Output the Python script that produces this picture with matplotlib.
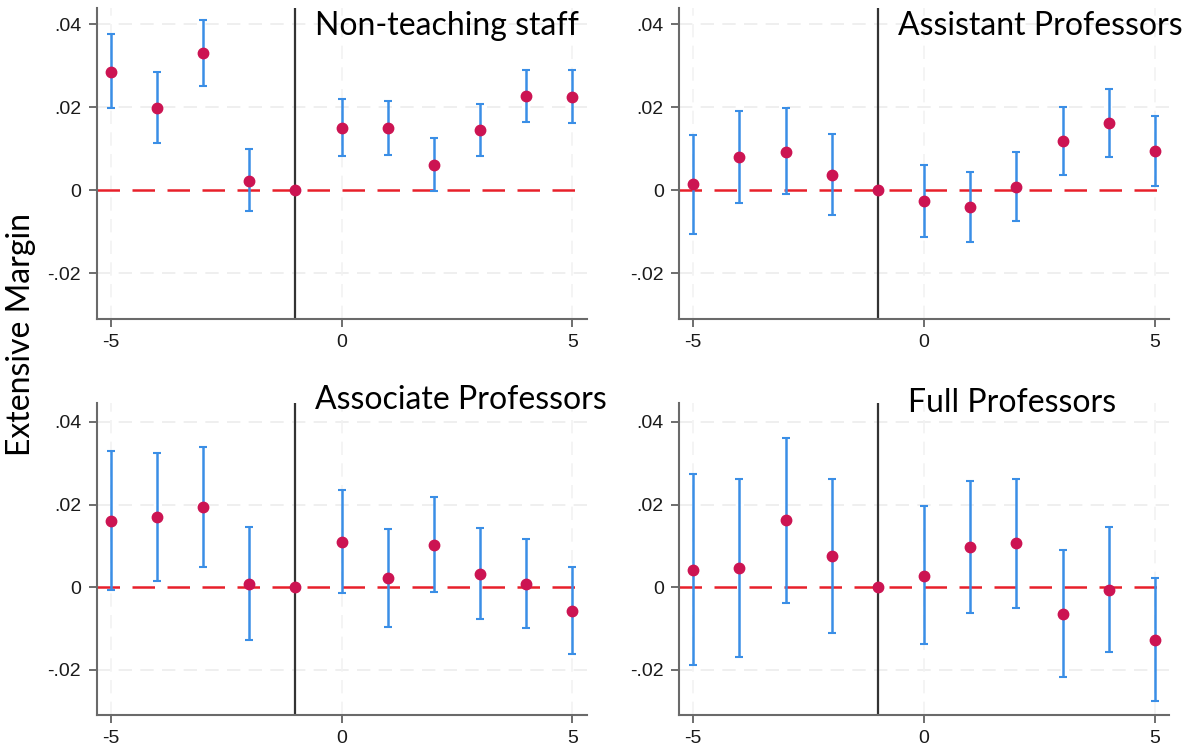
import matplotlib.pyplot as plt
import numpy as np

plt.rcParams['font.family'] = 'Liberation Sans'
plt.rcParams['axes.unicode_minus'] = False

# event time
periods = [-5, -4, -3, -2, -1, 0, 1, 2, 3, 4, 5]

# point estimates and 95% CI, one set per panel (reference period -1 = 0)
titles = ['Non-teaching staff', 'Assistant Professors', 'Associate Professors', 'Full Professors']

coef_staff = [0.0286, 0.0197, 0.0330, 0.0023, 0.0, 0.0151, 0.0149, 0.0060, 0.0145, 0.0226, 0.0225]
lo_staff   = [0.0198, 0.0113, 0.0251, -0.0051, 0.0, 0.0083, 0.0084, -0.0002, 0.0083, 0.0164, 0.0162]
hi_staff   = [0.0377, 0.0284, 0.0410, 0.0099, 0.0, 0.0220, 0.0216, 0.0126, 0.0208, 0.0289, 0.0289]

coef_asst = [0.0015, 0.0080, 0.0093, 0.0036, 0.0, -0.0026, -0.0040, 0.0008, 0.0118, 0.0161, 0.0094]
lo_asst   = [-0.0106, -0.0030, -0.0010, -0.0060, 0.0, -0.0113, -0.0124, -0.0075, 0.0036, 0.0080, 0.0011]
hi_asst   = [0.0133, 0.0192, 0.0198, 0.0135, 0.0, 0.0062, 0.0045, 0.0093, 0.0201, 0.0244, 0.0180]

coef_assoc = [0.0160, 0.0169, 0.0194, 0.0008, 0.0, 0.0110, 0.0023, 0.0103, 0.0032, 0.0008, -0.0058]
lo_assoc   = [-0.0007, 0.0015, 0.0049, -0.0128, 0.0, -0.0015, -0.0096, -0.0011, -0.0078, -0.0100, -0.0163]
hi_assoc   = [0.0330, 0.0325, 0.0340, 0.0145, 0.0, 0.0235, 0.0141, 0.0219, 0.0144, 0.0116, 0.0048]

coef_full = [0.0042, 0.0045, 0.0162, 0.0075, 0.0, 0.0028, 0.0096, 0.0106, -0.0065, -0.0006, -0.0128]
lo_full   = [-0.0188, -0.0169, -0.0038, -0.0111, 0.0, -0.0139, -0.0064, -0.0050, -0.0218, -0.0157, -0.0276]
hi_full   = [0.0274, 0.0261, 0.0362, 0.0262, 0.0, 0.0197, 0.0258, 0.0263, 0.0089, 0.0146, 0.0023]

yticks = [-0.02, 0, 0.02, 0.04]
ytick_labels = ['-.02', '0', '.02', '.04']
xticks = [-5, 0, 5]

W, H = 1192, 756
fig = plt.figure(figsize=(W/100, H/100), dpi=100)

# axes boxes in pixels: left, top, right, bottom
boxes = [(96.5, 8, 586.7, 319), (679, 8, 1169.3, 319),
         (96.5, 403, 586.7, 715), (679, 403, 1169.3, 715)]
ylims = [(-0.031, 0.0439), (-0.031, 0.0439), (-0.031, 0.0446), (-0.031, 0.0446)]
data = [(coef_staff, lo_staff, hi_staff), (coef_asst, lo_asst, hi_asst),
        (coef_assoc, lo_assoc, hi_assoc), (coef_full, lo_full, hi_full)]
# title anchor (left x, centre y) in pixels
title_pos = [(315, 26), (898, 26), (315, 400), (908, 403)]

for box, yl, (c, lo, hi), title, tp in zip(boxes, ylims, data, titles, title_pos):
    l, t, r, b = box
    ax = fig.add_axes([l/W, 1-b/H, (r-l)/W, (b-t)/H])
    c = np.array(c); lo = np.array(lo); hi = np.array(hi)
    x = np.array(periods)

    ax.set_xlim(-5.31, 5.31)
    ax.set_ylim(*yl)
    for yv in [-0.02, 0.02, 0.04]:
        ax.axhline(yv, color='#ececec', lw=1.2, ls=(0, (8, 5)), zorder=0)
    for xv in xticks:
        ax.axvline(xv, color='#f2f2f2', lw=1.2, ls=(0, (8, 5)), zorder=0)

    ax.axhline(0, color='#e8202a', lw=1.8, ls=(0, (9, 5)), zorder=1)
    ax.axvline(-1, color='#333333', lw=1.6, zorder=2)

    m = x != -1
    ax.errorbar(x[m], c[m], yerr=[c[m]-lo[m], hi[m]-c[m]], fmt='none',
                ecolor='#3a8ee6', elinewidth=1.8, capsize=3, capthick=1.5, zorder=3)
    ax.plot(x, c, 'o', color='#cc1452', ms=7.5, zorder=4)

    ax.set_xticks(xticks)
    ax.set_yticks(yticks)
    ax.set_yticklabels(ytick_labels)
    for s in ['top', 'right']:
        ax.spines[s].set_visible(False)
    for s in ['left', 'bottom']:
        ax.spines[s].set_color('#6a6a6a')
        ax.spines[s].set_linewidth(1.5)
    ax.tick_params(direction='out', length=6, width=1.2, color='#555555',
                   labelsize=14, labelcolor='#1a1a1a', pad=5)

    fig.text(tp[0]/W, 1-tp[1]/H, title, ha='left', va='center',
             fontsize=23, family='Lato', color='black')

fig.text(21/W, 1-335/H, 'Extensive Margin', rotation=90, ha='center', va='center',
         fontsize=23, family='Lato', color='black')

fig.savefig('out.png', dpi=100, facecolor='white')
